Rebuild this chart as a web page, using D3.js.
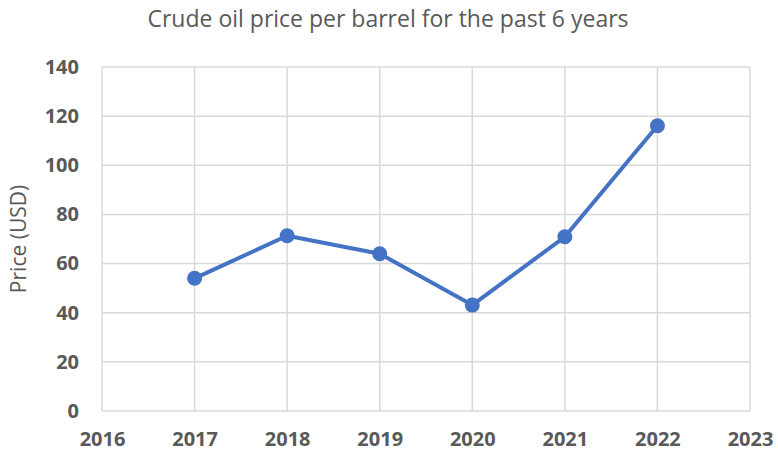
<!DOCTYPE html>
<html>
<head>
<meta charset="utf-8">
<script src="https://cdn.jsdelivr.net/npm/d3@7"></script>
<style>
  body { margin: 0; background: #fff; }
  #chart { width: 778px; height: 456px; }
  text { font-family: "Open Sans", sans-serif; fill: #595959; }
</style>
</head>
<body>
<div id="chart"></div>
<script>
// values
let years = [2017, 2018, 2019, 2020, 2021, 2022];
let prices = [54.0, 71.3, 64.0, 43.1, 70.9, 116.1];
let xTicks = [2016, 2017, 2018, 2019, 2020, 2021, 2022, 2023];
let yTicks = [0, 20, 40, 60, 80, 100, 120, 140];

let margin = {top: 67, right: 28, bottom: 45, left: 102};
let width = 778 - margin.left - margin.right;
let height = 456 - margin.top - margin.bottom;

let svg = d3.select("#chart").append("svg")
    .attr("width", 778)
    .attr("height", 456);

let g = svg.append("g")
    .attr("transform", "translate(" + margin.left + "," + margin.top + ")");

let x = d3.scaleLinear().domain([2016, 2023]).range([0, width]);
let y = d3.scaleLinear().domain([0, 140]).range([height, 0]);

// gridlines
g.append("g")
    .selectAll("line")
    .data(yTicks)
    .join("line")
    .attr("x1", 0).attr("x2", width)
    .attr("y1", d => y(d)).attr("y2", d => y(d))
    .attr("stroke", "#d9d9d9")
    .attr("stroke-width", 1.5);

g.append("g")
    .selectAll("line")
    .data(xTicks)
    .join("line")
    .attr("x1", d => x(d)).attr("x2", d => x(d))
    .attr("y1", 0).attr("y2", height)
    .attr("stroke", "#d9d9d9")
    .attr("stroke-width", 1.5);

// axes labels
let xAxis = g.append("g")
    .attr("transform", "translate(0," + height + ")")
    .call(d3.axisBottom(x).tickValues(xTicks).tickFormat(d3.format("d")).tickSize(0).tickPadding(21));
xAxis.select(".domain").remove();
xAxis.selectAll("text")
    .style("font-size", "20px")
    .style("font-weight", "bold")
    .attr("fill", "#595959");

let yAxis = g.append("g")
    .call(d3.axisLeft(y).tickValues(yTicks).tickSize(0).tickPadding(23));
yAxis.select(".domain").remove();
yAxis.selectAll("text")
    .style("font-size", "20px")
    .style("font-weight", "bold")
    .attr("fill", "#595959");

// line
let line = d3.line()
    .x((d, i) => x(years[i]))
    .y(d => y(d));

g.append("path")
    .datum(prices)
    .attr("fill", "none")
    .attr("stroke", "#4472c4")
    .attr("stroke-width", 4)
    .attr("stroke-linejoin", "round")
    .attr("d", line);

g.selectAll("circle")
    .data(prices)
    .join("circle")
    .attr("cx", (d, i) => x(years[i]))
    .attr("cy", d => y(d))
    .attr("r", 7.5)
    .attr("fill", "#4472c4");

// title
svg.append("text")
    .attr("x", 388)
    .attr("y", 27)
    .attr("text-anchor", "middle")
    .style("font-size", "23px")
    .text("Crude oil price per barrel for the past 6 years");

// y axis title
svg.append("text")
    .attr("transform", "translate(26," + (margin.top + height / 2) + ") rotate(-90)")
    .attr("text-anchor", "middle")
    .style("font-size", "21px")
    .text("Price (USD)");
</script>
</body>
</html>
